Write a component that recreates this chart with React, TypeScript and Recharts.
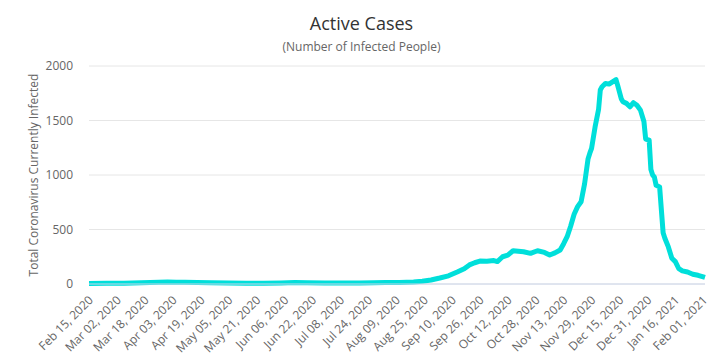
import { LineChart, Line, XAxis, YAxis, CartesianGrid } from "recharts";

const dates = [
  "2020-02-15", "2020-02-25", "2020-03-06", "2020-03-16", "2020-03-26", "2020-03-31",
  "2020-04-05", "2020-04-10", "2020-04-17", "2020-04-25", "2020-05-05", "2020-05-15",
  "2020-05-25", "2020-06-04", "2020-06-12", "2020-06-19", "2020-06-29", "2020-07-09",
  "2020-07-19", "2020-07-27", "2020-08-03", "2020-08-11", "2020-08-19", "2020-08-24",
  "2020-08-29", "2020-09-03", "2020-09-08", "2020-09-13", "2020-09-17", "2020-09-20",
  "2020-09-23", "2020-09-26", "2020-09-30", "2020-10-04", "2020-10-06", "2020-10-09",
  "2020-10-12", "2020-10-15", "2020-10-18", "2020-10-21", "2020-10-25", "2020-10-29",
  "2020-11-02", "2020-11-05", "2020-11-08", "2020-11-11", "2020-11-13", "2020-11-15",
  "2020-11-17", "2020-11-19", "2020-11-21", "2020-11-23", "2020-11-25", "2020-11-27",
  "2020-11-28", "2020-11-29", "2020-12-01", "2020-12-03", "2020-12-04", "2020-12-05",
  "2020-12-07", "2020-12-09", "2020-12-11", "2020-12-13", "2020-12-14", "2020-12-16",
  "2020-12-17", "2020-12-19", "2020-12-21", "2020-12-23", "2020-12-25", "2020-12-27",
  "2020-12-29", "2020-12-30", "2021-01-01", "2021-01-02", "2021-01-03", "2021-01-04",
  "2021-01-05", "2021-01-07", "2021-01-09", "2021-01-10", "2021-01-12", "2021-01-14",
  "2021-01-16", "2021-01-18", "2021-01-20", "2021-01-23", "2021-01-26", "2021-01-29",
  "2021-02-01", "2021-02-02",
];

const activeCases = [
  5, 6, 8, 12, 15, 18,
  17, 15, 13, 11, 9, 8,
  8, 10, 13, 12, 10, 9,
  10, 12, 14, 13, 18, 25,
  37, 55, 75, 110, 140, 175,
  195, 210, 208, 215, 206, 250,
  265, 305, 300, 296, 281, 305,
  290, 266, 285, 312, 370, 434,
  530, 640, 710, 755, 920, 1150,
  1200, 1245, 1440, 1600, 1780, 1810,
  1840, 1834, 1855, 1875, 1820, 1700,
  1672, 1657, 1626, 1663, 1640, 1595,
  1490, 1330, 1320, 1050, 1000, 980,
  905, 890, 470, 420, 340, 236,
  205, 140, 120, 110, 90, 80,
  65, 60,
];

const tickDates = [
  "2020-02-15", "2020-03-02", "2020-03-18", "2020-04-03", "2020-04-19", "2020-05-05",
  "2020-05-21", "2020-06-06", "2020-06-22", "2020-07-08", "2020-07-24", "2020-08-09",
  "2020-08-25", "2020-09-10", "2020-09-26", "2020-10-12", "2020-10-28", "2020-11-13",
  "2020-11-29", "2020-12-15", "2020-12-31", "2021-01-16", "2021-02-01",
];

const yTicks = [0, 500, 1000, 1500, 2000];

const MONTHS = ["Jan", "Feb", "Mar", "Apr", "May", "Jun", "Jul", "Aug", "Sep", "Oct", "Nov", "Dec"];
const DAY_MS = 86400000;
const start = Date.parse(dates[0] + "T00:00:00Z");
const toDay = (s: string) => Math.round((Date.parse(s + "T00:00:00Z") - start) / DAY_MS);

const data = dates.map((d, i) => ({ day: toDay(d), value: activeCases[i] }));
const xTicks = tickDates.map(toDay);

function fmtDay(day: number) {
  const dt = new Date(start + day * DAY_MS);
  const dd = String(dt.getUTCDate()).padStart(2, "0");
  return `${MONTHS[dt.getUTCMonth()]} ${dd}, ${dt.getUTCFullYear()}`;
}

const FONT = '"Open Sans", "DejaVu Sans", sans-serif';

function XTick({ x, y, payload }: any) {
  return (
    <g transform={`translate(${x + 2},${y + 6})`}>
      <text
        x={0}
        y={0}
        dy={4}
        textAnchor="end"
        transform="rotate(-45)"
        fill="#666666"
        fontSize={12}
        fontFamily={FONT}
      >
        {fmtDay(payload.value)}
      </text>
    </g>
  );
}

export default function App() {
  return (
    <div style={{ position: "absolute", left: 0, top: 0, width: 723, height: 358, background: "#fff" }}>
      <div
        style={{
          position: "absolute",
          top: 11,
          width: 723,
          textAlign: "center",
          fontFamily: FONT,
          fontSize: 18,
          color: "#333333",
        }}
      >
        Active Cases
      </div>
      <div
        style={{
          position: "absolute",
          top: 38,
          width: 723,
          textAlign: "center",
          fontFamily: FONT,
          fontSize: 12,
          color: "#666666",
        }}
      >
        (Number of Infected People)
      </div>
      <LineChart width={723} height={358} data={data} margin={{ top: 66, right: 18, bottom: 0, left: 29 }}>
        <CartesianGrid stroke="#e6e6e6" vertical={false} />
        <XAxis
          dataKey="day"
          type="number"
          domain={[0, 353]}
          ticks={xTicks}
          interval={0}
          height={74}
          tickLine={false}
          axisLine={{ stroke: "#ccd6eb" }}
          tick={<XTick />}
        />
        <YAxis
          type="number"
          domain={[0, 2000]}
          ticks={yTicks}
          width={60}
          axisLine={false}
          tickLine={false}
          tickMargin={10}
          tick={{ fill: "#666666", fontSize: 12, fontFamily: FONT }}
          label={{
            content: () => (
              <text
                x={38}
                y={175}
                transform="rotate(-90 38 175)"
                textAnchor="middle"
                fill="#666666"
                fontSize={12}
                fontFamily={FONT}
              >
                Total Coronavirus Currently Infected
              </text>
            ),
          }}
        />
        <Line
          type="linear"
          dataKey="value"
          stroke="#00dfda"
          strokeWidth={5}
          dot={false}
          strokeLinejoin="round"
          isAnimationActive={false}
        />
      </LineChart>
    </div>
  );
}
